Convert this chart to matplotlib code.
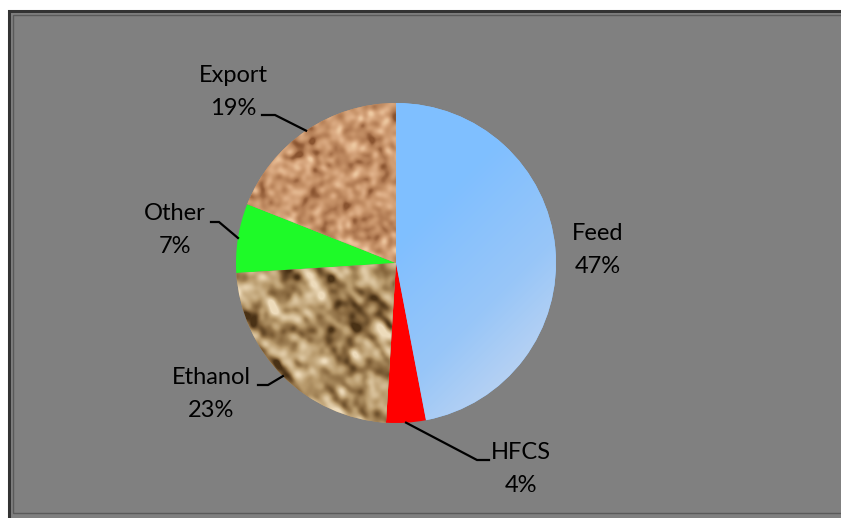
import numpy as np
import matplotlib
matplotlib.use("Agg")
import matplotlib.pyplot as plt
from matplotlib.patches import Rectangle
from matplotlib.colors import LinearSegmentedColormap

# US corn use shares
labels = ["Feed", "HFCS", "Ethanol", "Other", "Export"]
shares = [47, 4, 23, 7, 19]
colors = ["#80BFFF", "#FF0000", "#B89868", "#1EFA28", "#C8946A"]

W, H = 841, 518
cx, cy, r = 396, 255, 160

# label layout: text centre, elbow of leader, end of leader (pixels, y up)
text_pos = {"Feed": (598, 268), "HFCS": (521, 49), "Ethanol": (211, 124),
            "Other": (175, 288), "Export": (233, 426)}
elbow = {"HFCS": (477, 58), "Ethanol": (268, 133), "Other": (219, 296),
         "Export": (275, 403)}
lead_end = {"HFCS": 489, "Ethanol": 258, "Other": 211, "Export": 262}


def smooth_noise(n, sx, sy, rot, seed):
    rng = np.random.default_rng(seed)
    z = rng.standard_normal((n, n))
    fy = np.fft.fftfreq(n)[:, None]
    fx = np.fft.fftfreq(n)[None, :]
    c, s = np.cos(rot), np.sin(rot)
    u = c * fx + s * fy
    v = -s * fx + c * fy
    g = np.exp(-2 * np.pi ** 2 * ((u * sx) ** 2 + (v * sy) ** 2))
    out = np.real(np.fft.ifft2(np.fft.fft2(z) * g))
    out = (out - out.mean()) / out.std()
    return out


fig = plt.figure(figsize=(W / 100, H / 100), dpi=100)
fig.patch.set_facecolor("white")
ax = fig.add_axes([0, 0, 1, 1])

# chart area with its frame
ax.add_patch(Rectangle((9, -5), W, H - 6, facecolor="#808080",
                       edgecolor="#333333", linewidth=2.2, zorder=0))
ax.add_patch(Rectangle((13, 5), W, H - 20, facecolor="none",
                       edgecolor="#5a5a5a", linewidth=1.0, zorder=0))

wedges, _ = ax.pie(shares, colors=colors, startangle=90, counterclock=False,
                   center=(cx, cy), radius=r, frame=True,
                   wedgeprops=dict(linewidth=0))
ax.set_xlim(0, W)
ax.set_ylim(0, H)
ax.set_aspect("equal")
ax.axis("off")

ext = (cx - r, cx + r, cy - r, cy + r)
n = 320

# Feed: soft diagonal blue gradient
yy, xx = np.mgrid[0:n, 0:n] / (n - 1)
t = np.clip((xx + yy - 0.95) / 0.95, 0, 1)
blue = LinearSegmentedColormap.from_list("feed", ["#80BFFF", "#98C6F8", "#C8D8F0"])
im = ax.imshow(blue(t), extent=ext, origin="upper", zorder=2)
im.set_clip_path(wedges[0])

# Ethanol: streaky corn-kernel texture
eth = smooth_noise(n, 9, 3.5, 0.8, 3) + 0.6 * smooth_noise(n, 3, 3, 0, 5)
eth_cmap = LinearSegmentedColormap.from_list(
    "eth", ["#4a3216", "#8a6a40", "#b89a6c", "#d4bc94", "#eedcbc"])
im = ax.imshow(eth_cmap(np.clip((eth + 2.6) / 5.2, 0, 1)), extent=ext,
               origin="upper", zorder=2)
im.set_clip_path(wedges[2])

# Export: mottled tan texture
exp = smooth_noise(n, 2.8, 2.8, 0, 11)
exp_cmap = LinearSegmentedColormap.from_list(
    "exp", ["#8a5430", "#b27c54", "#c8946a", "#dcac84", "#eecaa2"])
im = ax.imshow(exp_cmap(np.clip((exp + 2.6) / 5.2, 0, 1)), extent=ext,
               origin="upper", zorder=2)
im.set_clip_path(wedges[4])

# labels and leader lines
theta = 90
for w, lab, val in zip(wedges, labels, shares):
    mid = np.deg2rad(theta - val * 3.6 / 2)
    theta -= val * 3.6
    tx, ty = text_pos[lab]
    ax.text(tx, ty, f"{lab}\n{val}%", ha="center", va="center",
            fontsize=17, family="Lato", linespacing=1.75, color="black",
            zorder=5)
    if lab in elbow:
        px, py = cx + r * np.cos(mid), cy + r * np.sin(mid)
        ex, ey = elbow[lab]
        ax.plot([px, ex, lead_end[lab]], [py, ey, ey], color="black",
                linewidth=1.6, zorder=4, solid_joinstyle="miter")

fig.savefig("out.png", dpi=100, facecolor=fig.get_facecolor())
